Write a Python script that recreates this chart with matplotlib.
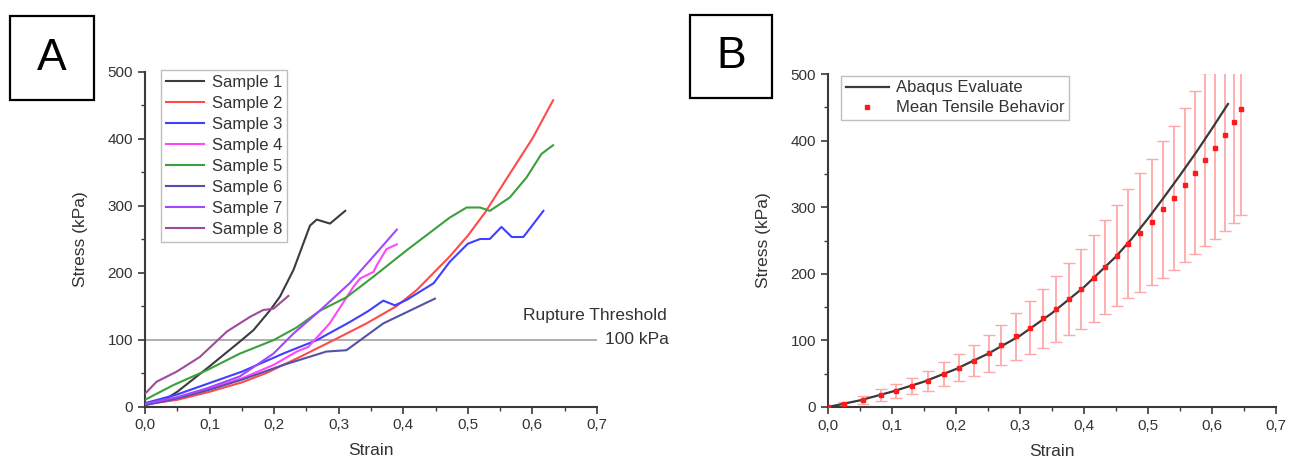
import matplotlib
matplotlib.use("Agg")
import matplotlib.pyplot as plt
from matplotlib.patches import Rectangle
from matplotlib.ticker import MultipleLocator, FuncFormatter

plt.rcParams['font.family'] = ['Liberation Sans', 'DejaVu Sans']

# ---------------- Panel A data ----------------
s1_x = [0, 0.03, 0.05, 0.1, 0.147, 0.168, 0.194, 0.209, 0.23, 0.2555, 0.266, 0.2865, 0.31]
s1_y = [2, 10, 22, 60, 97, 114, 144, 164, 204, 270, 279, 273, 292]
s2_x = [0, 0.05, 0.1, 0.15, 0.188, 0.24, 0.292, 0.343, 0.39, 0.421, 0.472, 0.5, 0.527, 0.56, 0.6, 0.632]
s2_y = [3, 10, 22, 36, 50, 74, 99, 124, 150, 174, 224, 255, 290, 340, 400, 457]
s3_x = [0, 0.05, 0.1, 0.15, 0.214, 0.266, 0.317, 0.345, 0.369, 0.387, 0.405, 0.447, 0.472, 0.5, 0.519, 0.534, 0.552, 0.568, 0.586, 0.617]
s3_y = [5, 18, 35, 52, 79, 99, 126, 142, 158, 151, 159, 184, 216, 243, 250, 250, 268, 253, 253, 292]
s4_x = [0, 0.05, 0.1, 0.15, 0.199, 0.235, 0.253, 0.286, 0.323, 0.333, 0.354, 0.359, 0.374, 0.39]
s4_y = [3, 12, 27, 42, 62, 82, 89, 124, 179, 191, 201, 211, 235, 242]
s5_x = [0, 0.044, 0.0955, 0.147, 0.199, 0.235, 0.271, 0.312, 0.354, 0.405, 0.446, 0.472, 0.498, 0.519, 0.534, 0.565, 0.591, 0.614, 0.632]
s5_y = [10, 32, 54, 79, 99, 118, 143, 163, 194, 233, 263, 282, 297, 297, 292, 312, 342, 377, 390]
s6_x = [0, 0.05, 0.1, 0.15, 0.214, 0.281, 0.312, 0.369, 0.449]
s6_y = [2, 12, 25, 40, 62, 82, 84, 124, 161]
s7_x = [0, 0.05, 0.0955, 0.147, 0.199, 0.23, 0.266, 0.317, 0.35, 0.39]
s7_y = [4, 14, 27, 45, 79, 109, 139, 184, 220, 264]
s8_x = [0, 0.018, 0.049, 0.085, 0.127, 0.163, 0.183, 0.199, 0.222]
s8_y = [19, 37, 52, 74, 112, 134, 144, 146, 165]

sample_labels = ["Sample 1", "Sample 2", "Sample 3", "Sample 4",
                 "Sample 5", "Sample 6", "Sample 7", "Sample 8"]
sample_colors = ["#3c3c3c", "#ff4a4a", "#3f3fff", "#ff45ff",
                 "#3c9f3c", "#5252a8", "#a347ff", "#a04a9c"]
threshold = 100

# ---------------- Panel B data ----------------
mean_x = [0.0, 0.025, 0.054, 0.083, 0.107, 0.132, 0.157, 0.181, 0.205, 0.228,
          0.252, 0.271, 0.294, 0.316, 0.336, 0.357, 0.376, 0.395, 0.415, 0.433,
          0.451, 0.469, 0.488, 0.506, 0.523, 0.540, 0.558, 0.573, 0.589, 0.605,
          0.620, 0.635, 0.646]
mean_y = [0, 4.5, 10.5, 18, 24, 31.5, 39.5, 49, 59, 69.5,
          80.6, 93, 106, 119, 133, 147, 162, 177, 193, 210,
          227, 245, 262, 278, 297, 314, 333, 352, 371, 389,
          408, 428, 447]
mean_err = [0, 3, 6, 8.5, 10, 12.5, 15, 18, 20, 23,
            28, 30, 35, 40, 44, 49, 54, 60, 65, 71,
            76, 82, 89, 95, 103, 108, 116, 123, 130, 137,
            144, 151, 158]
abaqus_x = [0, 0.05, 0.1, 0.15, 0.2, 0.25, 0.3, 0.35, 0.4, 0.45, 0.475, 0.5,
            0.525, 0.55, 0.575, 0.6, 0.625]
abaqus_y = [0, 10, 23, 38, 57, 80, 107, 141, 180, 226, 253, 283,
            315, 348, 382, 418, 455]

W, H = 1290, 457
fig = plt.figure(figsize=(W / 100, H / 100), dpi=100)


def style_axes(ax):
    ax.set_xlim(0, 0.7)
    ax.set_ylim(0, 500)
    for side in ("top", "right"):
        ax.spines[side].set_visible(False)
    for side in ("left", "bottom"):
        ax.spines[side].set_color("#3a3a3a")
        ax.spines[side].set_linewidth(1.5)
    ax.xaxis.set_major_locator(MultipleLocator(0.1))
    ax.xaxis.set_minor_locator(MultipleLocator(0.05))
    ax.yaxis.set_major_locator(MultipleLocator(100))
    ax.yaxis.set_minor_locator(MultipleLocator(50))
    ax.xaxis.set_major_formatter(FuncFormatter(lambda v, p: f"{v:.1f}".replace(".", ",")))
    ax.tick_params(which="major", direction="out", length=5, width=1.2,
                   color="#3a3a3a", labelsize=11, labelcolor="#333333")
    ax.tick_params(which="minor", direction="out", length=3, width=1.0, color="#3a3a3a")
    ax.set_xlabel("Strain", fontsize=12.5, color="#333333", labelpad=8)
    ax.set_ylabel("Stress (kPa)", fontsize=12.5, color="#333333", labelpad=14)


def ax_rect(l, r, t, b):
    return [l / W, 1 - b / H, (r - l) / W, (b - t) / H]


# ---------------- Panel A ----------------
axA = fig.add_axes(ax_rect(145, 597, 71.5, 406.5))
style_axes(axA)
axA.axhline(threshold, color="#a8a8a8", lw=1.3, zorder=1)
series = [(s1_x, s1_y), (s2_x, s2_y), (s3_x, s3_y), (s4_x, s4_y),
          (s5_x, s5_y), (s6_x, s6_y), (s7_x, s7_y), (s8_x, s8_y)]
for (xs, ys), lab, col in zip(series, sample_labels, sample_colors):
    axA.plot(xs, ys, color=col, lw=1.5, label=lab, zorder=3)
legA = axA.legend(loc="upper left", bbox_to_anchor=(0.035, 1.005), fontsize=12,
                  frameon=True, fancybox=False, edgecolor="#b0b0b0",
                  handlelength=2.3, handletextpad=0.45, labelspacing=0.36,
                  borderpad=0.3, borderaxespad=0.0)
legA.get_frame().set_linewidth(1.0)
for t in legA.get_texts():
    t.set_color("#333333")
axA.text(0.808, 136, "Rupture Threshold", ha="right", va="center",
         fontsize=12.5, color="#333333", clip_on=False)
axA.text(0.713, threshold, "100 kPa", ha="left", va="center",
         fontsize=12.5, color="#333333", clip_on=False)

# ---------------- Panel B ----------------
axB = fig.add_axes(ax_rect(828, 1276, 74, 407))
style_axes(axB)
axB.errorbar(mean_x, mean_y, yerr=mean_err, fmt="none", ecolor="#ffa8a8",
             elinewidth=1.3, capsize=4, capthick=1.0, zorder=2, clip_on=True)
axB.plot(abaqus_x, abaqus_y, color="#3a3a3a", lw=1.6, label="Abaqus Evaluate", zorder=3)
axB.plot(mean_x, mean_y, ls="none", marker="s", ms=3.5, color="#ff1a1a",
         label="Mean Tensile Behavior", zorder=4)
legB = axB.legend(loc="upper left", bbox_to_anchor=(0.03, 0.993), fontsize=12,
                  frameon=True, fancybox=False, edgecolor="#b0b0b0",
                  handlelength=2.6, handletextpad=0.45, labelspacing=0.3,
                  borderpad=0.25, borderaxespad=0.0)
legB.get_frame().set_linewidth(1.0)
for t in legB.get_texts():
    t.set_color("#333333")

# ---------------- Panel letters ----------------
for (l, t, r, b, letter) in [(10, 16, 94, 100, "A"), (690, 15, 772, 98, "B")]:
    fig.add_artist(Rectangle((l / W, 1 - b / H), (r - l) / W, (b - t) / H,
                             transform=fig.transFigure, fill=False,
                             edgecolor="black", lw=1.6))
    fig.text((l + r) / 2 / W, 1 - (t + b) / 2 / H, letter, ha="center", va="center",
             fontsize=32, color="black")

fig.savefig("out.png", dpi=100)
